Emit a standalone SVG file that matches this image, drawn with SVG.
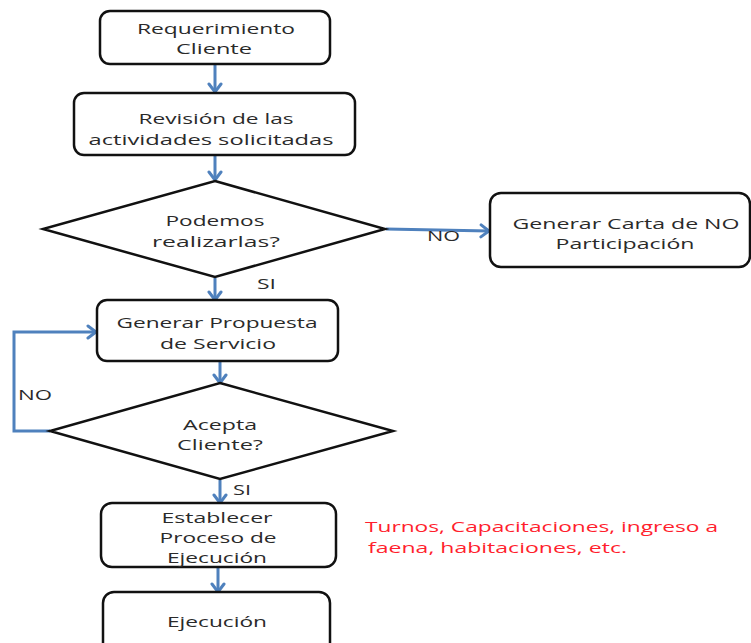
<svg xmlns="http://www.w3.org/2000/svg" width="751" height="643" viewBox="0 0 751 643">
  <defs>
    <style>
      .box { fill: #ffffff; stroke: #111111; stroke-width: 2.5; }
      .dec { fill: #ffffff; stroke: #111111; stroke-width: 2.5; stroke-linejoin: miter; }
      .lbl { font-family: "Open Sans", "Liberation Sans", sans-serif; font-size: 15px; fill: #2a2a2a; text-anchor: middle; }
      .tag { font-family: "Open Sans", "Liberation Sans", sans-serif; font-size: 15px; fill: #2a2a2a; }
      .note { font-family: "Open Sans", "Liberation Sans", sans-serif; font-size: 15px; fill: #ff1f2e; }
      .flow { fill: none; stroke: #4f81bd; stroke-width: 3; marker-end: url(#head); }
    </style>
    <marker id="head" markerUnits="userSpaceOnUse" markerWidth="16" markerHeight="16" refX="13" refY="8" orient="auto">
      <polyline points="5,2 13,8 5,14" fill="none" stroke="#4f81bd" stroke-width="3" stroke-linecap="round" stroke-linejoin="miter"/>
    </marker>
  </defs>

  <rect width="751" height="643" fill="#ffffff"/>

  <!-- connectors and their labels -->
  <g id="connectors">
    <line class="flow" x1="215" y1="65" x2="215" y2="92"/>
    <line class="flow" x1="215" y1="156" x2="215" y2="180"/>
    <line class="flow" x1="386" y1="229" x2="489" y2="231"/>
    <line class="flow" x1="215" y1="278" x2="215" y2="300"/>
    <line class="flow" x1="220" y1="362" x2="220" y2="383"/>
    <polyline class="flow" points="50,431 14,431 14,332 96,332"/>
    <line class="flow" x1="220" y1="480" x2="220" y2="503"/>
    <line class="flow" x1="218" y1="568" x2="218" y2="592"/>
    <text class="tag" x="427" y="241" textLength="33" lengthAdjust="spacingAndGlyphs">NO</text>
    <text class="tag" x="257" y="289" textLength="19" lengthAdjust="spacingAndGlyphs">SI</text>
    <text class="tag" x="18" y="400" textLength="34" lengthAdjust="spacingAndGlyphs">NO</text>
    <text class="tag" x="233" y="495" textLength="18" lengthAdjust="spacingAndGlyphs">SI</text>
  </g>

  <g id="requerimiento">
    <rect class="box" x="100" y="11" width="230" height="53" rx="10"/>
    <text class="lbl" x="216" y="34" textLength="158" lengthAdjust="spacingAndGlyphs">Requerimiento</text>
    <text class="lbl" x="214" y="54" textLength="76" lengthAdjust="spacingAndGlyphs">Cliente</text>
  </g>

  <g id="revision">
    <rect class="box" x="74" y="93" width="281" height="62" rx="10"/>
    <text class="lbl" x="216" y="124" textLength="155" lengthAdjust="spacingAndGlyphs">Revisión de las</text>
    <text class="lbl" x="211" y="145" textLength="245" lengthAdjust="spacingAndGlyphs">actividades solicitadas</text>
  </g>

  <g id="podemos">
    <polygon class="dec" points="215,181 385,229 215,277 43,229"/>
    <text class="lbl" x="215" y="226" textLength="99" lengthAdjust="spacingAndGlyphs">Podemos</text>
    <text class="lbl" x="216" y="247" textLength="128" lengthAdjust="spacingAndGlyphs">realizarlas?</text>
  </g>

  <g id="carta-no">
    <rect class="box" x="490" y="193" width="260" height="74" rx="11"/>
    <text class="lbl" x="626" y="229" textLength="227" lengthAdjust="spacingAndGlyphs">Generar Carta de NO</text>
    <text class="lbl" x="625" y="249" textLength="139" lengthAdjust="spacingAndGlyphs">Participación</text>
  </g>

  <g id="propuesta">
    <rect class="box" x="97" y="300" width="241" height="61" rx="10"/>
    <text class="lbl" x="217" y="328" textLength="201" lengthAdjust="spacingAndGlyphs">Generar Propuesta</text>
    <text class="lbl" x="218" y="349" textLength="116" lengthAdjust="spacingAndGlyphs">de Servicio</text>
  </g>

  <g id="acepta">
    <polygon class="dec" points="220,383 393,431 220,479 50,431"/>
    <text class="lbl" x="220" y="430" textLength="74" lengthAdjust="spacingAndGlyphs">Acepta</text>
    <text class="lbl" x="220" y="450" textLength="86" lengthAdjust="spacingAndGlyphs">Cliente?</text>
  </g>

  <g id="establecer">
    <rect class="box" x="101" y="503" width="235" height="64" rx="11"/>
    <text class="lbl" x="217" y="523" textLength="111" lengthAdjust="spacingAndGlyphs">Establecer</text>
    <text class="lbl" x="218" y="543" textLength="117" lengthAdjust="spacingAndGlyphs">Proceso de</text>
    <text class="lbl" x="217" y="563" textLength="100" lengthAdjust="spacingAndGlyphs">Ejecución</text>
  </g>

  <g id="ejecucion">
    <rect class="box" x="103" y="592" width="227" height="70" rx="11"/>
    <text class="lbl" x="217" y="627" textLength="100" lengthAdjust="spacingAndGlyphs">Ejecución</text>
  </g>

  <g id="nota">
    <text class="note" x="365" y="532" textLength="353" lengthAdjust="spacingAndGlyphs">Turnos, Capacitaciones, ingreso a</text>
    <text class="note" x="368" y="553" textLength="259" lengthAdjust="spacingAndGlyphs">faena, habitaciones, etc.</text>
  </g>
</svg>
